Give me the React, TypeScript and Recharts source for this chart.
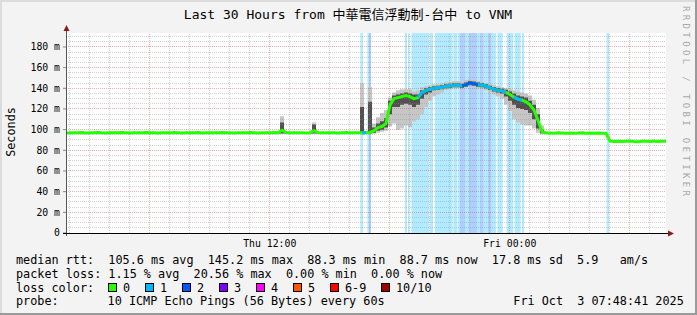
import React from 'react';
import { ComposedChart, Area, Line, XAxis, YAxis, ReferenceLine } from 'recharts';

// ---------- layout constants ----------
const W = 697;
const H = 315;
const PLOT_LEFT = 66;
const PLOT_TOP = 33;
const PLOT_W = 600;
const PLOT_H = 200;
const Y_MAX = 193.5;
const STEP_MIN = 12; // minutes between median samples
const START_MIN_OF_DAY = 108.68; // Thu 01:48:41
const MONO = "'DejaVu Sans Mono', 'Noto Sans CJK TC', monospace";

// ---------- axis / tick data ----------
const xTickValues = [611.3, 1331.3];
const xTickLabels = ['Thu 12:00', 'Fri 00:00'];
const yTickValues = [0, 20, 40, 60, 80, 100, 120, 140, 160, 180];
const yTickLabels = ['0', '20 m', '40 m', '60 m', '80 m', '100 m', '120 m', '140 m', '160 m', '180 m'];

// ---------- series data ----------
// median RTT (ms), one sample every 12 minutes, 151 samples over 30 hours
const medianMs = [
  96.8, 97.1, 96.9, 97.0, 97.2, 96.7, 97.0, 96.9, 97.3, 97.0,
  96.8, 97.1, 97.0, 96.9, 97.2, 97.0, 96.8, 97.1, 96.9, 97.0,
  97.2, 96.9, 97.0, 96.8, 97.1, 97.0, 96.9, 97.2, 97.0, 96.8,
  97.1, 96.9, 97.0, 97.2, 96.8, 97.0, 97.1, 96.9, 97.0, 97.2,
  96.9, 97.0, 96.8, 97.1, 97.0, 96.9, 97.2, 97.0, 96.8, 97.1,
  97.0, 96.9, 97.2, 97.0,
  99.5,
  97.3, 97.0, 96.9, 97.1, 97.0, 96.8, 97.1,
  99.0,
  97.2, 97.0, 96.9, 97.1, 97.0, 96.8, 97.0, 97.2, 96.9, 97.0, 97.1,
  97.0, 96.9, 97.2, 99, 102, 103, 106, 124, 130, 131,
  132, 133, 132, 130, 131, 136, 138, 139, 140, 140.5,
  141, 142, 142.5, 143, 143, 142.5, 143.5, 145.2, 144.5, 143.5,
  143, 142, 140.5, 139, 138, 137.5, 136, 134, 131.5, 129.5,
  128.5, 127, 124, 119, 109, 98, 97,
  96.8, 96.6, 96.9, 96.7, 96.5, 96.8, 96.6, 96.7, 96.9, 96.5, 96.7, 96.6, 96.8, 96.5, 96.6,
  88.9, 88.6, 88.8, 88.5, 88.7, 88.9, 88.6, 88.4, 88.8, 88.7, 88.5, 88.9, 88.6, 88.8, 88.7,
];

// smoke (spread of the pings) for samples 73..121
const SMOKE_FROM = 73;
const smokeHi = [
  98, 145, 99, 141, 106, 112, 116, 119, 131, 136,
  138, 139, 139, 139, 137, 138, 141, 142, 143, 144,
  144, 145, 146, 146, 147, 147, 146, 148, 149, 148,
  147, 146, 145, 144, 143, 142, 141, 140, 139, 138,
  137, 136, 135, 133, 129, 121, 104, 98, 97.5,
];
const smokeLo = [
  96, 95.5, 96, 96, 96, 97, 98, 99, 103, 106,
  100, 101, 104, 102, 108, 110, 115, 122, 128, 132,
  134, 136, 138, 139, 140, 140, 139, 141, 142, 141,
  140, 139, 138, 136, 134, 132, 130, 124, 118, 110,
  107, 105, 104, 104, 101, 97, 95.5, 95.5, 95.5,
];
const coreHi = [
  97.5, 122, 98, 127, 102, 106, 108, 111, 128, 133,
  134, 135, 136, 135, 134, 134, 138, 140, 141, 142,
  142.5, 143, 144, 144.5, 145, 145, 144.5, 145.5, 147, 146.5,
  145.5, 145, 144, 142.5, 141, 140, 139.5, 138.5, 137, 135,
  133, 132, 131, 128, 124, 115, 100, 97.5, 97.2,
];
const coreLo = [
  96.2, 96, 96.2, 96.2, 97, 99, 100, 102, 115, 122,
  122, 124, 125, 124, 122, 124, 130, 134, 136, 138,
  138.5, 139, 140, 140.5, 141, 141, 140.5, 141.5, 143, 142.5,
  141.5, 141, 140, 138.5, 137, 136, 135, 132, 128, 124,
  121, 120, 119, 116, 110, 101, 96.5, 96.2, 96,
];

// isolated smoke spikes earlier in the day
const spikeIdx = [53, 54, 55, 61, 62, 63];
const spikeHi = [97.5, 113, 97.5, 97.5, 107, 97.5];
const spikeLo = [96.3, 96.3, 96.3, 96.3, 96.3, 96.3];
const spikeCoreHi = [97.5, 107, 97.5, 97.5, 105, 97.5];

// median segments coloured by packet loss (sample index ranges)
const medianLossFrom = [74, 88, 99, 103, 112];
const medianLossTo = [75, 99, 103, 110, 114];
const medianLossLevel = [1, 1, 2, 1, 1];

// packet loss bands (minutes from start)
const lossBandStart = [883, 904, 909, 1017, 1026, 1036, 1092, 1107, 1162, 1176, 1182, 1197, 1209, 1233, 1242, 1252, 1266, 1276, 1294, 1322, 1346, 1368, 1622];
const lossBandEnd = [891, 909, 915, 1023, 1030, 1089, 1101, 1160, 1174, 1182, 1197, 1209, 1233, 1242, 1252, 1266, 1276, 1290, 1310, 1342, 1364, 1374, 1629];
const lossBandLevel = [1, 1, 2, 1, 1, 1, 1, 1, 1, 1, 2, 1, 2, 1, 2, 1, 2, 1, 1, 1, 1, 1, 1];

// legend
const lossColors = ['#26ff00', '#00b8ff', '#0059ff', '#7e00ff', '#ff00ff', '#ff5500', '#ff0000', '#a10000'];
const lossLabels = ['0', '1', '2', '3', '4', '5', '6-9', '10/10'];
const legendBoxX = [108, 145, 182, 219, 256, 293, 330, 381];

const row1 = 'median rtt:  105.6 ms avg  145.2 ms max  88.3 ms min  88.7 ms now  17.8 ms sd  5.9   am/s';
const row2 = 'packet loss: 1.15 % avg  20.56 % max  0.00 % min  0.00 % now';
const probeText = '10 ICMP Echo Pings (56 Bytes) every 60s';
const stampText = 'Fri Oct  3 07:48:41 2025';
const titleText = 'Last 30 Hours from 中華電信浮動制-台中 to VNM';

// ---------- build tables ----------
const table = medianMs.map((m, i) => {
  const row: any = { t: i * STEP_MIN, median: m };
  const k = i - SMOKE_FROM;
  if (k >= 0 && k < smokeHi.length) {
    row.smoke = [smokeLo[k], smokeHi[k]];
    row.core = [coreLo[k], coreHi[k]];
  }
  const s = spikeIdx.indexOf(i);
  if (s >= 0) {
    row.smoke = [spikeLo[s], spikeHi[s]];
    row.core = [spikeLo[s], spikeCoreHi[s]];
  }
  medianLossFrom.forEach((f, j) => {
    if (i >= f && i <= medianLossTo[j]) row['m' + medianLossLevel[j]] = m;
  });
  return row;
});

const bandData = (level: number) => {
  const pts: any[] = [];
  lossBandStart.forEach((s, j) => {
    if (lossBandLevel[j] !== level) return;
    pts.push({ t: s, v: Y_MAX });
    pts.push({ t: lossBandEnd[j], v: 0 });
  });
  return pts;
};
const band1 = bandData(1);
const band2 = bandData(2);

// grid values
const hourLines: number[] = [];
for (let h = 2; h <= 31; h++) hourLines.push(h * 60 - START_MIN_OF_DAY);
const majorHourLines = hourLines.filter((_, k) => (k + 2) % 6 === 0);
const minorHourLines = hourLines.filter((_, k) => (k + 2) % 6 !== 0);
const yMinor: number[] = [];
const yMajor: number[] = [];
for (let v = 5; v <= 190; v += 5) (v % 20 === 0 ? yMajor : yMinor).push(v);

const MINOR = 'rgba(140,140,140,0.38)';
const MAJOR = 'rgba(200,50,50,0.38)';

export default function App() {
  return (
    <div style={{ position: 'relative', width: W, height: H, background: '#f3f3f3', overflow: 'hidden' }}>
      <style>{'body{margin:0}'}</style>
      <div style={{ position: 'absolute', left: PLOT_LEFT, top: PLOT_TOP, width: PLOT_W, height: PLOT_H, background: '#ffffff' }} />
      <div style={{ position: 'absolute', left: 0, top: 0 }}>
        <ComposedChart width={W} height={H} data={table} margin={{ top: PLOT_TOP, right: W - PLOT_LEFT - PLOT_W, bottom: 0, left: 0 }}>
          <XAxis
            type="number"
            dataKey="t"
            domain={[0, 1800]}
            allowDataOverflow
            ticks={xTickValues}
            interval={0}
            tickFormatter={(v: number) => xTickLabels[xTickValues.indexOf(v)] ?? ''}
            height={H - PLOT_TOP - PLOT_H}
            axisLine={false}
            tickLine={false}
            tickSize={0}
            tickMargin={7}
            tick={{ fontFamily: MONO, fontSize: 9.8, fill: '#000' }}
          />
          <YAxis
            type="number"
            domain={[0, Y_MAX]}
            allowDataOverflow
            ticks={yTickValues}
            interval={0}
            tickFormatter={(v: number) => yTickLabels[yTickValues.indexOf(v)] ?? ''}
            width={PLOT_LEFT}
            axisLine={false}
            tickLine={{ stroke: '#888' }}
            tickSize={3}
            tickMargin={3}
            tick={{ fontFamily: MONO, fontSize: 9.8, fill: '#000' }}
          />
          <Area data={band1} dataKey="v" type="stepAfter" stroke="none" fill="#00b8ff" fillOpacity={0.3} isAnimationActive={false} />
          <Area data={band2} dataKey="v" type="stepAfter" stroke="none" fill="#0059ff" fillOpacity={0.3} isAnimationActive={false} />
          {minorHourLines.map((v) => (
            <ReferenceLine key={'xm' + v} x={v} stroke={MINOR} strokeDasharray="1 1" shapeRendering="crispEdges" />
          ))}
          {yMinor.map((v) => (
            <ReferenceLine key={'ym' + v} y={v} stroke={MINOR} strokeDasharray="1 1" shapeRendering="crispEdges" />
          ))}
          {majorHourLines.map((v) => (
            <ReferenceLine key={'xM' + v} x={v} stroke={MAJOR} strokeDasharray="1 1" shapeRendering="crispEdges" />
          ))}
          {yMajor.map((v) => (
            <ReferenceLine key={'yM' + v} y={v} stroke={MAJOR} strokeDasharray="1 1" shapeRendering="crispEdges" />
          ))}
          <Area dataKey="smoke" type="step" stroke="none" fill="#c6c6c6" fillOpacity={1} isAnimationActive={false} />
          <Area dataKey="core" type="step" stroke="none" fill="#3c3c3c" fillOpacity={0.85} isAnimationActive={false} />
          <Line dataKey="median" type="linear" stroke="#26ff00" strokeWidth={3} dot={false} isAnimationActive={false} />
          <Line dataKey="m1" type="linear" stroke="#00b8ff" strokeWidth={3} dot={false} isAnimationActive={false} />
          <Line dataKey="m2" type="linear" stroke="#0059ff" strokeWidth={3} dot={false} isAnimationActive={false} />
        </ComposedChart>
      </div>
      <svg width={W} height={H} style={{ position: 'absolute', left: 0, top: 0, pointerEvents: 'none' }}>
        {/* frame */}
        <line x1={0} y1={1} x2={W} y2={1} stroke="#dcdcdc" strokeWidth={2} />
        <line x1={1} y1={0} x2={1} y2={H} stroke="#dcdcdc" strokeWidth={2} />
        <line x1={0} y1={H - 1} x2={W} y2={H - 1} stroke="#9a9a9a" strokeWidth={2} />
        <line x1={W - 1} y1={0} x2={W - 1} y2={H} stroke="#9a9a9a" strokeWidth={2} />
        {/* axes */}
        <line x1={66.5} y1={31} x2={66.5} y2={236} stroke="#555" strokeWidth={1} />
        <polygon points="66.5,25 63.5,31 69.5,31" fill="#8b1a1a" />
        <line x1={63} y1={233.5} x2={669} y2={233.5} stroke="#000" strokeWidth={1} />
        <polygon points="674,233.5 668,230.5 668,236.5" fill="#8b1a1a" />
        {/* title */}
        <text x={348} y={19} textAnchor="middle" fontFamily={MONO} fontSize={13} fill="#000" style={{ whiteSpace: 'pre' }}>
          {titleText}
        </text>
        {/* y label */}
        <text transform="translate(15,132) rotate(-90)" textAnchor="middle" fontFamily={MONO} fontSize={11.8} fill="#000">
          Seconds
        </text>
        {/* watermark */}
        <text transform="translate(683,6) rotate(90)" fontFamily={MONO} fontSize={9} fill="#a8a8a8" textLength={190} lengthAdjust="spacing">
          RRDTOOL / TOBI OETIKER
        </text>
        {/* legend */}
        <g fontFamily={MONO} fontSize={11.8} fill="#000" style={{ whiteSpace: 'pre' }}>
          <text x={16} y={263.5} xmlSpace="preserve">{row1}</text>
          <text x={16} y={277.5} xmlSpace="preserve">{row2}</text>
          <text x={16} y={291.5}>loss color:</text>
          {lossLabels.map((l, i) => (
            <g key={l}>
              <rect x={legendBoxX[i] + 0.5} y={283.5} width={8} height={8} fill={lossColors[i]} stroke="#000" strokeWidth={1} />
              <text x={legendBoxX[i] + 15} y={291.5}>{l}</text>
            </g>
          ))}
          <text x={16} y={305.3}>probe:</text>
          <text x={107.6} y={305.3}>{probeText}</text>
          <text x={513.3} y={305.3} xmlSpace="preserve">{stampText}</text>
        </g>
      </svg>
    </div>
  );
}
